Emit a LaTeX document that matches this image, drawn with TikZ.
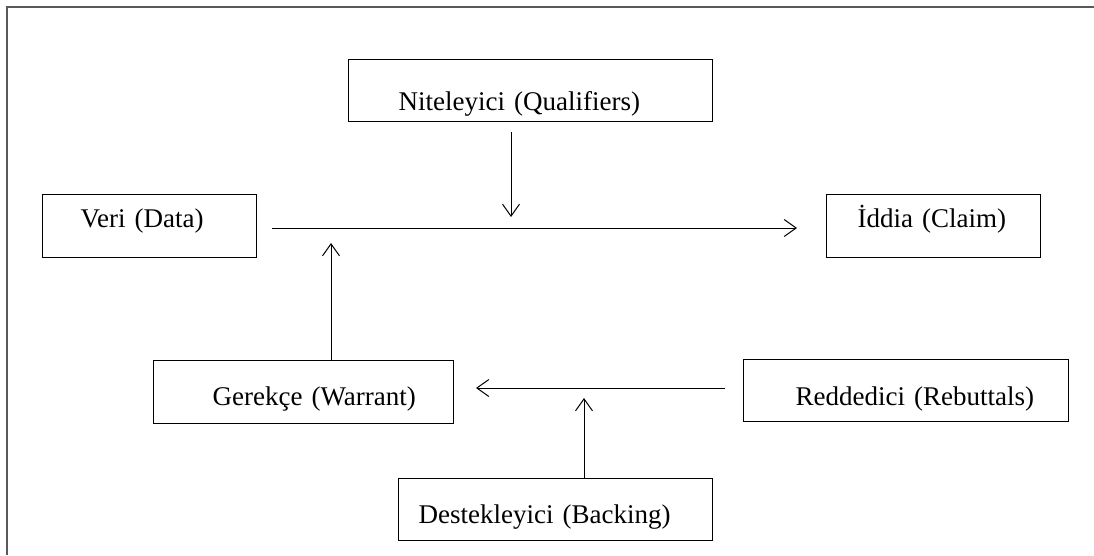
\documentclass[tikz,border=0pt]{standalone}
\usepackage{fontspec}
\setmainfont{Liberation Serif}
\usetikzlibrary{arrows.meta}

\tikzset{
  tbox/.style={draw, line width=1.3pt, inner sep=0pt, anchor=north west, align=left,
    font=\fontsize{27}{32}\selectfont},
  arr/.style={line width=1pt, -{Straight Barb[length=12pt,width=17pt]}},
}

\begin{document}
\begin{tikzpicture}[x=1pt, y=-1pt]
              \useasboundingbox (0,0) rectangle (1094,555);
              \draw[line width=1.5pt, black!65] (1094,7) -- (7,7) -- (7,555);

              % Boxes
              \node[tbox, text width=214pt, text height=33pt, text depth=30pt] (data) at (42,194) {\hspace*{38pt}Veri (Data)};
              \node[tbox, text width=214pt, text height=33pt, text depth=30pt] (claim) at (826,194) {\hspace*{31pt}İddia (Claim)};
              \node[tbox, text width=364pt, text height=51pt, text depth=11pt] (qual) at (348,59) {\hspace*{50pt}Niteleyici (Qualifiers)};
              \node[tbox, text width=300pt, text height=45pt, text depth=18pt] (warrant) at (153,360) {\hspace*{59pt}Gerekçe (Warrant)};
              \node[tbox, text width=325pt, text height=46pt, text depth=16pt] (rebut) at (743,359) {\hspace*{52pt}Reddedici (Rebuttals)};
              \node[tbox, text width=314pt, text height=45pt, text depth=17pt] (backing) at (398,478) {\hspace*{20pt}Destekleyici (Backing)};

              % Free ends of the arrows
              \coordinate (m1) at (272,228);
              \coordinate (m2) at (797,228);
              \coordinate (q1) at (511,132);
              \coordinate (q2) at (511,217);
              \coordinate (w2) at (331,243);
              \coordinate (r1) at (725,388);
              \coordinate (r2) at (476,388);
              \coordinate (b2) at (584,398);

              % Arrows
              \draw[arr] (m1) -- (m2);
              \draw[arr] (q1) -- (q2);
              \draw[arr] (warrant.north -| w2) -- (w2);
              \draw[arr] (r1) -- (r2);
              \draw[arr] (backing.north -| b2) -- (b2);
          \end{tikzpicture}
\end{document}
